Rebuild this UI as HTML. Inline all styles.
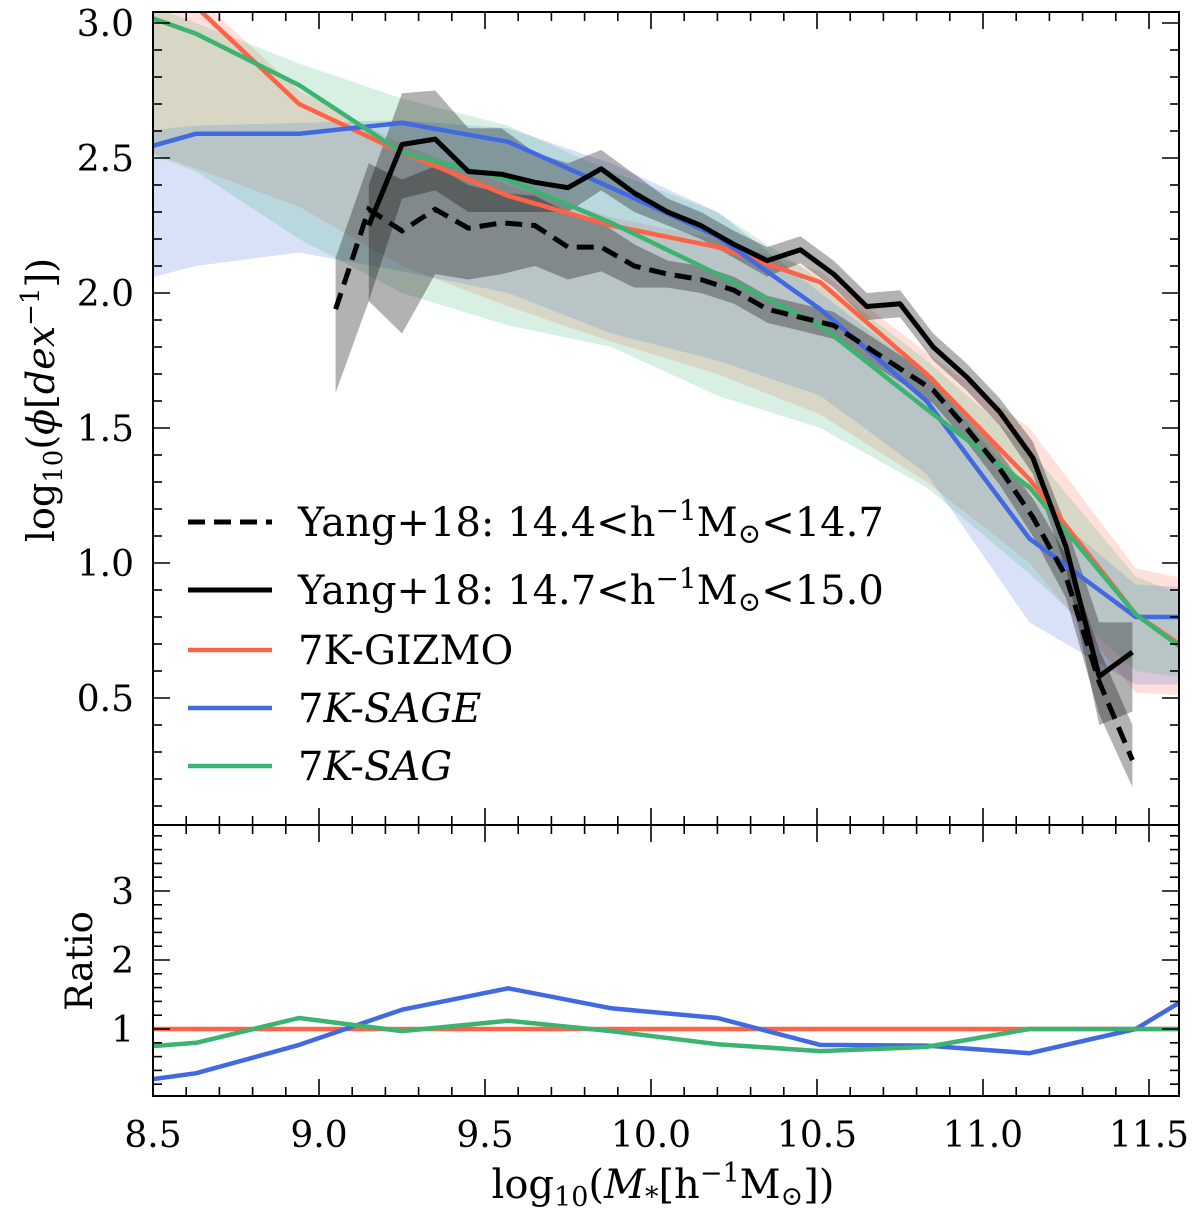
<!DOCTYPE html>
<html><head><meta charset="utf-8"><style>
body{margin:0;background:#fff}
svg{display:block;font-family:"DejaVu Serif","Liberation Serif",serif}
</style></head><body>
<svg id="chart" width="1200" height="1218" viewBox="0 0 1200 1218" xmlns="http://www.w3.org/2000/svg">
<defs>
<clipPath id="clipTop"><rect x="153" y="12" width="1026" height="813"/></clipPath>
<clipPath id="clipBot"><rect x="153" y="825" width="1026" height="271"/></clipPath>
</defs>
<g id="topBands" clip-path="url(#clipTop)"></g>
<g id="topYang" clip-path="url(#clipTop)"></g>
<g id="topLines" clip-path="url(#clipTop)"></g>
<g id="botLines" clip-path="url(#clipBot)"></g>
<g id="axes"></g>
<g id="legend">
  <line x1="188" y1="522" x2="272" y2="522" stroke="#000" stroke-width="5" stroke-dasharray="17,9"/>
  <text x="298" y="536" font-size="40">Yang+18: 14.4&lt;h<tspan dy="-16" font-size="28">−1</tspan><tspan dy="16">M</tspan><tspan dy="7" font-size="28">⊙</tspan><tspan dy="-7">&lt;14.7</tspan></text>
  <line x1="188" y1="590" x2="272" y2="590" stroke="#000" stroke-width="5"/>
  <text x="298" y="604" font-size="40">Yang+18: 14.7&lt;h<tspan dy="-16" font-size="28">−1</tspan><tspan dy="16">M</tspan><tspan dy="7" font-size="28">⊙</tspan><tspan dy="-7">&lt;15.0</tspan></text>
  <line x1="188" y1="650" x2="272" y2="650" stroke="#ff6347" stroke-width="4.5"/>
  <text x="298" y="664" font-size="40">7K-GIZMO</text>
  <line x1="188" y1="708" x2="272" y2="708" stroke="#4169e1" stroke-width="4.5"/>
  <text x="298" y="722" font-size="40">7<tspan font-style="italic">K-SAGE</tspan></text>
  <line x1="188" y1="766" x2="272" y2="766" stroke="#3cb371" stroke-width="4.5"/>
  <text x="298" y="780" font-size="40">7<tspan font-style="italic">K-SAG</tspan></text>
</g>
<text transform="translate(54,400) rotate(-90)" text-anchor="middle" font-size="38">log<tspan dy="8" font-size="26">10</tspan><tspan dy="-8">(</tspan><tspan font-style="italic">ϕ</tspan>[<tspan font-style="italic">dex</tspan><tspan dy="-15" font-size="26">−1</tspan><tspan dy="15">])</tspan></text>
<text transform="translate(92,961) rotate(-90)" text-anchor="middle" font-size="37">Ratio</text>
<text x="663" y="1198" text-anchor="middle" font-size="40">log<tspan dy="8" font-size="27">10</tspan><tspan dy="-8">(</tspan><tspan font-style="italic">M</tspan><tspan dy="8" font-size="27">*</tspan><tspan dy="-8">[h</tspan><tspan dy="-16" font-size="27">−1</tspan><tspan dy="16">M</tspan><tspan dy="7" font-size="27">⊙</tspan><tspan dy="-7">])</tspan></text>
</svg>
<script>
const simX=[8.31,8.63,8.94,9.25,9.57,9.88,10.2,10.51,10.83,11.14,11.46,11.77];
const gizmo=[3.3,3.06,2.70,2.52,2.36,2.25,2.17,2.04,1.70,1.31,0.81,0.55];
const gizmoLo=[2.6,2.46,2.32,2.10,1.95,1.82,1.70,1.55,1.30,1.00,0.52,0.50];
const gizmoHi=[3.4,3.1,2.75,2.55,2.40,2.28,2.20,2.08,1.78,1.50,0.98,0.90];
const sage=[2.48,2.59,2.59,2.63,2.56,2.39,2.21,1.94,1.60,1.09,0.80,0.80];
const sageLo=[2.0,2.10,2.15,2.08,2.0,1.85,1.75,1.62,1.33,0.78,0.55,0.55];
const sageHi=[2.58,2.62,2.63,2.64,2.61,2.48,2.30,2.00,1.70,1.25,0.92,0.90];
const sag=[3.1,2.96,2.77,2.52,2.42,2.26,2.07,1.88,1.57,1.28,0.81,0.53];
const sagLo=[2.6,2.45,2.20,2.00,1.88,1.80,1.62,1.50,1.28,0.96,0.60,0.55];
const sagHi=[3.15,3.0,2.85,2.72,2.62,2.45,2.30,2.05,1.75,1.42,0.95,0.80];
const ratioSage=[0.15,0.36,0.77,1.28,1.59,1.30,1.16,0.77,0.76,0.65,1.0,1.9];
const ratioSag=[0.68,0.80,1.16,0.97,1.12,0.97,0.78,0.68,0.74,1.0,1.0,1.0];
const ratioGizmo=[1,1,1,1,1,1,1,1,1,1,1,1];
const yangX=[9.05,9.15,9.25,9.35,9.45,9.55,9.65,9.75,9.85,9.95,10.05,10.15,10.25,10.35,10.45,10.55,10.65,10.75,10.85,10.95,11.05,11.15,11.25,11.35,11.45];
const yangLow=[1.94,2.31,2.23,2.31,2.24,2.26,2.25,2.17,2.17,2.10,2.07,2.05,2.01,1.94,1.91,1.88,1.80,1.72,1.64,1.50,1.35,1.17,0.95,0.56,0.27];
const yangLowLo=[1.63,1.97,1.85,2.07,2.05,2.07,2.10,2.05,2.08,2.02,2.02,2.00,1.96,1.89,1.86,1.83,1.75,1.67,1.59,1.45,1.29,1.10,0.87,0.44,0.17];
const yangLowHi=[2.13,2.48,2.42,2.47,2.40,2.37,2.36,2.30,2.26,2.18,2.12,2.10,2.06,1.99,1.96,1.93,1.85,1.77,1.69,1.55,1.41,1.24,1.03,0.68,0.40];
const yangHigh=[null,2.25,2.55,2.57,2.45,2.44,2.41,2.39,2.46,2.37,2.30,2.25,2.18,2.12,2.16,2.07,1.95,1.96,1.80,1.69,1.56,1.39,1.06,0.58,0.67];
const yangHighLo=[null,1.97,2.35,2.38,2.30,2.30,2.30,2.30,2.38,2.30,2.25,2.20,2.13,2.06,2.11,2.02,1.90,1.91,1.75,1.64,1.51,1.33,0.98,0.40,0.45];
const yangHighHi=[null,2.40,2.74,2.75,2.61,2.61,2.52,2.48,2.53,2.44,2.35,2.30,2.23,2.17,2.21,2.12,2.00,2.01,1.85,1.74,1.61,1.45,1.14,0.78,0.78];
const xTickLabels=["8.5","9.0","9.5","10.0","10.5","11.0","11.5"];
const yTickLabels=["0.5","1.0","1.5","2.0","2.5","3.0"];
const rTickLabels=["1","2","3"];

const X0=153,X1=1179,TOP0=12,TOP1=825,BOT1=1096;
const xS=v=>153+(v-8.5)*332;
const yT=v=>23+(3-v)*270;
const yR=v=>1029+(1-v)*69;
const NS="http://www.w3.org/2000/svg";
function mk(tag,attrs,parent){const e=document.createElementNS(NS,tag);for(const k in attrs)e.setAttribute(k,attrs[k]);parent.appendChild(e);return e;}
function linePts(xs,ys,fy){return xs.map((x,i)=>ys[i]==null?null:xS(x).toFixed(1)+","+fy(ys[i]).toFixed(1)).filter(p=>p).join(" ");}
function bandPts(xs,lo,hi,fy){const a=[],b=[];xs.forEach((x,i)=>{if(lo[i]==null)return;a.push(xS(x).toFixed(1)+","+fy(hi[i]).toFixed(1));b.unshift(xS(x).toFixed(1)+","+fy(lo[i]).toFixed(1));});return a.concat(b).join(" ");}

const gB=document.getElementById('topBands');
let p;
p=mk('polygon',{points:bandPts(simX,gizmoLo,gizmoHi,yT),fill:'#ff6347','fill-opacity':0.2},gB);


p=mk('polygon',{points:bandPts(simX,sageLo,sageHi,yT),fill:'#4169e1','fill-opacity':0.2},gB);


p=mk('polygon',{points:bandPts(simX,sagLo,sagHi,yT),fill:'#3cb371','fill-opacity':0.2},gB);



const gY=document.getElementById('topYang');
p=mk('polygon',{points:bandPts(yangX,yangLowLo,yangLowHi,yT),fill:'#000','fill-opacity':0.3},gY);


p=mk('polygon',{points:bandPts(yangX,yangHighLo,yangHighHi,yT),fill:'#000','fill-opacity':0.3},gY);



const gL=document.getElementById('topLines');
p=mk('polyline',{points:linePts(simX,gizmo,yT),fill:'none',stroke:'#ff6347','stroke-width':4.5,'stroke-linejoin':'round'},gL);


p=mk('polyline',{points:linePts(simX,sage,yT),fill:'none',stroke:'#4169e1','stroke-width':4.5,'stroke-linejoin':'round'},gL);


p=mk('polyline',{points:linePts(simX,sag,yT),fill:'none',stroke:'#3cb371','stroke-width':4.5,'stroke-linejoin':'round'},gL);


p=mk('polyline',{points:linePts(yangX,yangLow,yT),fill:'none',stroke:'#000','stroke-width':5,'stroke-dasharray':'17,9'},gL);


p=mk('polyline',{points:linePts(yangX,yangHigh,yT),fill:'none',stroke:'#000','stroke-width':5,'stroke-linejoin':'round'},gL);



const gR=document.getElementById('botLines');
p=mk('polyline',{points:linePts(simX,ratioGizmo,yR),fill:'none',stroke:'#ff6347','stroke-width':4.5},gR);


p=mk('polyline',{points:linePts(simX,ratioSage,yR),fill:'none',stroke:'#4169e1','stroke-width':4.5,'stroke-linejoin':'round'},gR);


p=mk('polyline',{points:linePts(simX,ratioSag,yR),fill:'none',stroke:'#3cb371','stroke-width':4.5,'stroke-linejoin':'round'},gR);



const gA=document.getElementById('axes');
const sw={stroke:'#000','stroke-width':2,fill:'none'};
p=mk('rect',Object.assign({x:X0,y:TOP0,width:X1-X0,height:TOP1-TOP0},sw),gA);


p=mk('rect',Object.assign({x:X0,y:TOP1,width:X1-X0,height:BOT1-TOP1},sw),gA);


for(let i=0;i<=31;i++){const v=8.5+i*0.1;const x=xS(v);if(x>X1+0.5)break;const major=i%5===0;const L=major?17:9;
 [[TOP0,1],[TOP1,-1],[TOP1,1],[BOT1,-1]].forEach(([y,d])=>{mk('line',{x1:x,y1:y,x2:x,y2:y+d*L,stroke:'#000','stroke-width':1.6},gA);});}
xTickLabels.forEach(s=>{const t=mk('text',{x:xS(parseFloat(s)),y:1147,'text-anchor':'middle','font-size':36},gA);t.textContent=s;
 
 });
for(let i=1;i<=30;i++){const v=i*0.1;const y=yT(v);if(y<TOP0||y>TOP1)continue;const major=i%5===0;const L=major?17:9;
 mk('line',{x1:X0,y1:y,x2:X0+L,y2:y,stroke:'#000','stroke-width':1.6},gA);
 mk('line',{x1:X1,y1:y,x2:X1-L,y2:y,stroke:'#000','stroke-width':1.6},gA);}
yTickLabels.forEach(s=>{const t=mk('text',{x:134,y:yT(parseFloat(s))+13,'text-anchor':'end','font-size':36},gA);t.textContent=s;
 
 });
for(let i=1;i<=19;i++){const v=i*0.2;const y=yR(v);if(y<TOP1||y>BOT1)continue;const major=i%5===0;const L=major?17:9;
 mk('line',{x1:X0,y1:y,x2:X0+L,y2:y,stroke:'#000','stroke-width':1.6},gA);
 mk('line',{x1:X1,y1:y,x2:X1-L,y2:y,stroke:'#000','stroke-width':1.6},gA);}
rTickLabels.forEach(s=>{const t=mk('text',{x:134,y:yR(parseFloat(s))+13,'text-anchor':'end','font-size':36},gA);t.textContent=s;
 
 });
</script>
</body></html>
